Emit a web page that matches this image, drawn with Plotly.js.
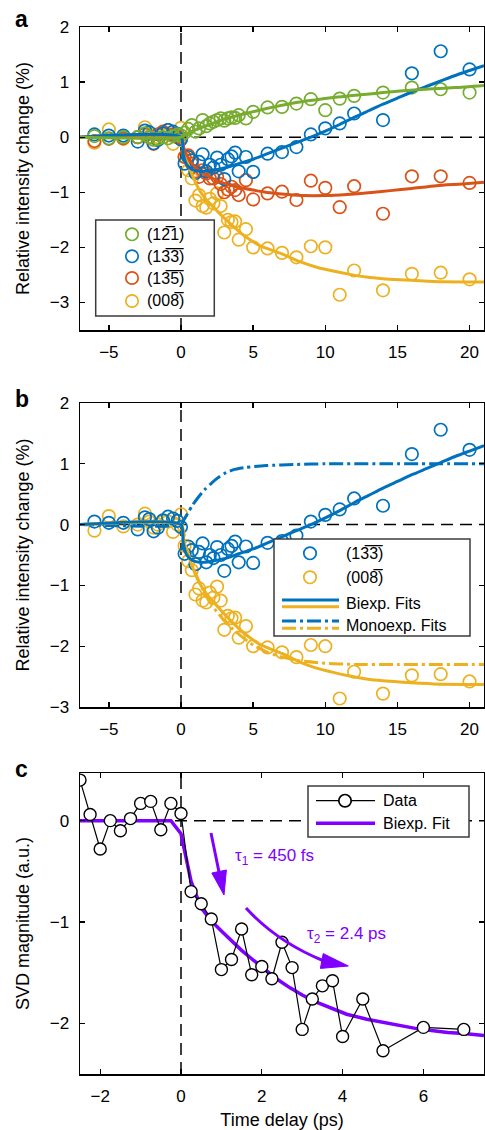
<!DOCTYPE html>
<html>
<head>
<meta charset="utf-8">
<script src="https://cdn.plot.ly/plotly-3.0.1.min.js"></script>
<style>html,body{margin:0;padding:0;background:#fff;}#chart{width:485px;height:1130px;}</style>
</head>
<body>
<div id="chart"></div>
<script>
// ---------------- DATA ----------------
const delays = [-6,-5,-4,-3,-2.5,-2.2,-1.9,-1.6,-1.25,-0.9,-0.55,-0.25,0,
  0.25,0.5,0.75,1,1.25,1.5,1.75,2,2.25,2.5,2.75,3,3.25,3.5,3.75,4,
  4.5,5,6,7,8,9,10,11,12,14,16,18,20];

const green121 = [0.02,-0.02,0.0,0.0,0.07,0.0,-0.04,-0.03,0.0,-0.02,0.02,0.05,0.03,
  0.08,0.15,0.22,0.10,0.16,0.31,0.20,0.25,0.28,0.31,0.34,0.30,0.34,0.36,0.35,0.40,
  0.34,0.46,0.54,0.55,0.61,0.69,0.49,0.70,0.75,0.81,0.90,0.87,0.81];

const blue133 = [0.05,0.03,0.03,-0.08,0.12,0.09,-0.11,-0.05,0.07,0.13,0.10,0.06,-0.04,
  -0.48,-0.36,-0.42,-0.65,-0.45,-0.31,-0.62,-0.50,-0.55,-0.37,-0.50,-0.76,-0.40,-0.35,-0.28,-0.62,
  -0.36,-0.63,-0.30,-0.27,-0.18,0.05,0.16,0.25,0.43,0.31,1.16,1.56,1.23];

const orange135 = [-0.07,-0.03,-0.02,0.0,0.05,0.0,-0.12,0.05,0.10,0.13,0.05,0.0,-0.02,
  -0.36,-0.33,-0.48,-0.62,-0.72,-0.60,-0.66,-0.75,-0.75,-0.72,-0.85,-1.00,-0.95,-0.90,-0.96,-1.05,
  -0.78,-1.13,-1.02,-0.99,-1.14,-0.79,-0.92,-1.27,-0.89,-1.39,-0.71,-0.71,-0.83];

const yellow008 = [-0.10,0.14,-0.03,0.0,0.18,0.05,-0.05,0.0,0.05,0.05,-0.12,0.0,0.17,
  -0.35,-0.60,-0.75,-1.15,-1.05,-1.25,-1.28,-1.12,-1.20,-1.02,-1.25,-1.73,-1.50,-1.54,-1.53,-1.86,
  -1.67,-2.00,-2.02,-2.10,-2.18,-1.98,-2.00,-2.86,-2.42,-2.78,-2.48,-2.46,-2.58];

// Biexponential fits
const greenFitT = [-7,0,0.3,0.7,1.3,2,2.7,3.6,4.5,5.93,7,8.24,9.4,10.55,11.7,12.86,14,15.2,17.5,19,21];
const greenFitV = [0,0,0.05,0.10,0.16,0.23,0.30,0.37,0.43,0.52,0.58,0.64,0.68,0.72,0.75,0.78,0.81,0.84,0.88,0.90,0.94];

const blueFitT = [-7,0,0.15,0.4,0.8,1.3,2,3,4,5,6,7,8,9,10,11,12,13,14,15,16,17,18,19,20,21];
const blueFitV = [0,0,-0.30,-0.50,-0.59,-0.62,-0.61,-0.56,-0.48,-0.40,-0.30,-0.20,-0.10,0.0,0.11,0.23,0.36,0.48,0.60,0.71,0.82,0.92,1.02,1.12,1.21,1.30];

const orangeFitT = [-7,0,0.2,0.6,1,1.55,2.1,2.7,3.3,3.86,5,6.16,7.4,8.5,10,11.5,13,14.5,16,17.7,19.5,21];
const orangeFitV = [0,0,-0.20,-0.42,-0.55,-0.66,-0.74,-0.81,-0.86,-0.90,-0.96,-1.01,-1.04,-1.06,-1.06,-1.04,-1.01,-0.97,-0.93,-0.88,-0.85,-0.82];

const yellowFitT = [-7,0,0.15,0.35,0.62,1.0,1.3,1.8,2.47,3,3.62,4.2,4.78,5.4,5.93,7,8.24,9.4,10.55,11.7,12.86,14,15.17,17.5,21];
const yellowFitV = [0,0,-0.20,-0.40,-0.58,-0.82,-0.97,-1.15,-1.33,-1.47,-1.62,-1.75,-1.86,-1.96,-2.02,-2.12,-2.26,-2.36,-2.43,-2.49,-2.54,-2.57,-2.59,-2.62,-2.63];

// Monoexponential fits (panel b)
const blueMonoT = [-7,0,0.2,0.5,0.8,1.2,1.66,2.1,2.5,3,3.6,4.5,5.9,8,10,14,21];
const blueMonoV = [0,0,0.08,0.20,0.32,0.45,0.58,0.68,0.76,0.84,0.90,0.94,0.97,0.99,1.0,1.0,1.0];
const yellowMonoT = [-7,0,0.3,0.6,1,1.5,2,2.5,3,3.6,4.3,5,6,7,8.2,10,12,15,21];
const yellowMonoV = [0,0,-0.30,-0.55,-0.80,-1.06,-1.27,-1.44,-1.58,-1.72,-1.86,-1.98,-2.10,-2.18,-2.24,-2.28,-2.30,-2.30,-2.30];

// Panel c: SVD magnitude
const svdT = [-2.5,-2.25,-2,-1.75,-1.5,-1.25,-1,-0.75,-0.5,-0.25,0,0.25,0.5,0.75,1,1.25,1.5,1.75,2,2.25,2.5,2.75,3,3.25,3.5,3.75,4,4.5,5,6,7];
const svdV = [0.40,0.06,-0.28,0.0,-0.10,0.02,0.17,0.19,-0.09,0.17,0.07,-0.70,-0.82,-0.97,-1.47,-1.37,-1.07,-1.52,-1.44,-1.56,-1.20,-1.45,-2.06,-1.76,-1.63,-1.58,-2.13,-1.76,-2.27,-2.04,-2.06];
const svdFitT = [-2.5,-0.25,0,0.25,0.5,0.75,1,1.25,1.5,1.8,2.1,2.4,2.7,3,3.35,3.7,4.1,4.6,5,5.4,5.8,6.2,6.6,7,7.5];
const svdFitV = [0,0,-0.13,-0.60,-0.86,-0.99,-1.09,-1.19,-1.28,-1.38,-1.48,-1.57,-1.65,-1.72,-1.79,-1.85,-1.91,-1.96,-1.99,-2.02,-2.05,-2.07,-2.09,-2.10,-2.12];

// Labels (bar over a digit = negative Miller index)
const labels = ['(12\u03051)', '(13\u03053\u0305)', '(13\u03055\u0305)', '(008\u0305)'];
const tickA = [-5,0,5,10,15,20];
const tickC = [-2,0,2,4,6];

// ---------------- STYLE ----------------
const C = {green:'#77AC30', blue:'#0072BD', orange:'#D95319', yellow:'#EDB120', purple:'#7F00FF'};
const W = 485, H = 1130;
const px = v => v / W;
const py = v => 1 - v / H;
const FONT = 'Liberation Sans, Arial, Helvetica, sans-serif';

function pts(x, y, color, xa, ya) {
  return {x:x, y:y, type:'scatter', mode:'markers', xaxis:xa, yaxis:ya, showlegend:false,
    marker:{symbol:'circle-open', size:12.5, color:color, line:{width:1.7, color:color}}};
}
function fit(x, y, color, xa, ya, dash) {
  return {x:x, y:y, type:'scatter', mode:'lines', xaxis:xa, yaxis:ya, showlegend:false,
    line:{color:color, width:3, shape:'spline', smoothing:0.6, dash:dash || 'solid'}};
}

const traces = [
  // panel a
  pts(delays, yellow008, C.yellow, 'x', 'y'),
  pts(delays, orange135, C.orange, 'x', 'y'),
  pts(delays, blue133, C.blue, 'x', 'y'),
  pts(delays, green121, C.green, 'x', 'y'),
  fit(yellowFitT, yellowFitV, C.yellow, 'x', 'y'),
  fit(orangeFitT, orangeFitV, C.orange, 'x', 'y'),
  fit(blueFitT, blueFitV, C.blue, 'x', 'y'),
  fit(greenFitT, greenFitV, C.green, 'x', 'y'),
  // panel b
  pts(delays, yellow008, C.yellow, 'x2', 'y2'),
  pts(delays, blue133, C.blue, 'x2', 'y2'),
  fit(yellowMonoT, yellowMonoV, C.yellow, 'x2', 'y2', '14px,4px,3px,4px'),
  fit(blueMonoT, blueMonoV, C.blue, 'x2', 'y2', '14px,4px,3px,4px'),
  fit(yellowFitT, yellowFitV, C.yellow, 'x2', 'y2'),
  fit(blueFitT, blueFitV, C.blue, 'x2', 'y2'),
  // panel c
  {x:svdFitT, y:svdFitV, type:'scatter', mode:'lines', xaxis:'x3', yaxis:'y3', showlegend:false,
    line:{color:C.purple, width:3.5}},
  {x:svdT, y:svdV, type:'scatter', mode:'lines+markers', xaxis:'x3', yaxis:'y3', showlegend:false,
    line:{color:'black', width:1.2},
    marker:{symbol:'circle', size:12, color:'white', line:{color:'black', width:1.4}}}
];

const axBase = {showgrid:false, zeroline:false, showline:true, linecolor:'black', linewidth:1.5,
  mirror:'ticks', ticks:'inside', ticklen:5, tickwidth:1.3, tickcolor:'black',
  tickfont:{size:17, color:'black'}, ticklabelstandoff:6};

const layout = {
  width:W, height:H, margin:{l:0, r:0, t:0, b:0}, paper_bgcolor:'white', plot_bgcolor:'white',
  font:{family:FONT, size:17, color:'black'}, showlegend:false,
  xaxis: Object.assign({}, axBase, {domain:[px(80), px(484)], range:[-7,21], tickvals:tickA, anchor:'y'}),
  yaxis: Object.assign({}, axBase, {domain:[py(330), py(27)], range:[-3.5,2], tickvals:[-3,-2,-1,0,1,2], anchor:'x',
    title:{text:'Relative intensity change (%)', font:{size:18}, standoff:15}}),
  xaxis2: Object.assign({}, axBase, {domain:[px(80), px(484)], range:[-7,21], tickvals:tickA, anchor:'y2'}),
  yaxis2: Object.assign({}, axBase, {domain:[py(707), py(403)], range:[-3,2], tickvals:[-3,-2,-1,0,1,2], anchor:'x2',
    title:{text:'Relative intensity change (%)', font:{size:18}, standoff:15}}),
  xaxis3: Object.assign({}, axBase, {domain:[px(80), px(484)], range:[-2.5,7.5], tickvals:tickC, anchor:'y3',
    title:{text:'Time delay (ps)', font:{size:18}, standoff:15}}),
  yaxis3: Object.assign({}, axBase, {domain:[py(1074), py(773)], range:[-2.5,0.47], tickvals:[-2,-1,0], anchor:'x3',
    title:{text:'SVD magnitude (a.u.)', font:{size:18}, standoff:15}}),
  shapes: [],
  annotations: []
};

const S = layout.shapes, A = layout.annotations;
const zeroDash = '12px,7px';
// zero lines
S.push({type:'line', xref:'x', yref:'y', x0:0, x1:0, y0:-3.5, y1:2, layer:'below', line:{color:'black', width:1.5, dash:zeroDash}});
S.push({type:'line', xref:'x', yref:'y', x0:-7, x1:21, y0:0, y1:0, layer:'below', line:{color:'black', width:1.5, dash:zeroDash}});
S.push({type:'line', xref:'x2', yref:'y2', x0:0, x1:0, y0:-3, y1:2, layer:'below', line:{color:'black', width:1.5, dash:zeroDash}});
S.push({type:'line', xref:'x2', yref:'y2', x0:-7, x1:21, y0:0, y1:0, layer:'below', line:{color:'black', width:1.5, dash:zeroDash}});
S.push({type:'line', xref:'x3', yref:'y3', x0:0, x1:0, y0:-2.5, y1:0.47, layer:'below', line:{color:'black', width:1.5, dash:zeroDash}});
S.push({type:'line', xref:'x3', yref:'y3', x0:-2.5, x1:7.5, y0:0, y1:0, layer:'below', line:{color:'black', width:1.5, dash:zeroDash}});

function box(x0, y0, x1, y1) {
  S.push({type:'rect', xref:'paper', yref:'paper', x0:px(x0), x1:px(x1), y0:py(y1), y1:py(y0),
    fillcolor:'white', line:{color:'#3c3c3c', width:1.5}, layer:'above'});
}
function circ(x, y, color, fill) {
  S.push({type:'circle', xref:'paper', yref:'paper', xsizemode:'pixel', ysizemode:'pixel',
    xanchor:px(x), yanchor:py(y), x0:-6.2, x1:6.2, y0:-6.2, y1:6.2,
    fillcolor: fill || 'rgba(0,0,0,0)', line:{color:color, width:1.7}, layer:'above'});
}
function seg(x0, x1, y, color, width, dash) {
  S.push({type:'line', xref:'paper', yref:'paper', x0:px(x0), x1:px(x1), y0:py(y), y1:py(y),
    line:{color:color, width:width, dash:dash || 'solid'}, layer:'above'});
}
function txt(x, y, text, size, color, anchor) {
  A.push({xref:'paper', yref:'paper', x:px(x), y:py(y), text:text, showarrow:false,
    xanchor:anchor || 'left', yanchor:'middle', font:{size:size, color:color || 'black', family:FONT}});
}

// legend a
box(95.7, 220, 214.3, 316);
const rowsA = [234.3, 256.3, 278, 301];
const colsA = [C.green, C.blue, C.orange, C.yellow];
rowsA.forEach((r, i) => { circ(132, r, colsA[i]); txt(145, r, labels[i], 16); });

// legend b
box(274, 539, 470, 636);
circ(310, 553.3, C.blue); txt(344, 553.3, labels[1], 16);
circ(310, 577.3, C.yellow); txt(344, 577.3, labels[3], 16);
seg(282, 339, 600, C.blue, 3); seg(282, 339, 606.7, C.yellow, 3);
txt(344, 603.3, 'Biexp. Fits', 16);
seg(282, 339, 621, C.blue, 3, '14px,4px,3px,4px'); seg(282, 339, 628.3, C.yellow, 3, '14px,4px,3px,4px');
txt(344, 625, 'Monoexp. Fits', 16);

// legend c
box(308, 786, 469, 837);
seg(316, 375, 800.7, 'black', 1.3); circ(345, 800.7, 'black', 'white');
txt(381, 800.7, 'Data', 16);
seg(316, 375, 823.3, C.purple, 3.5);
txt(381, 823.3, 'Biexp. Fit', 16);

// arrows in c
S.push({type:'line', xref:'paper', yref:'paper', x0:px(211), y0:py(833), x1:px(219), y1:py(872),
  line:{color:C.purple, width:3}});
S.push({type:'path', xref:'paper', yref:'paper', xsizemode:'pixel', ysizemode:'pixel',
  xanchor:px(224), yanchor:py(895), path:'M0,0 L-12.2,22 L2.4,25 Z', fillcolor:C.purple, line:{color:C.purple, width:1}});
S.push({type:'path', xref:'paper', yref:'paper',
  path:'M' + px(246) + ',' + py(908) + ' Q' + px(277) + ',' + py(942) + ' ' + px(324) + ',' + py(961),
  line:{color:C.purple, width:3}});
S.push({type:'path', xref:'paper', yref:'paper', xsizemode:'pixel', ysizemode:'pixel',
  xanchor:px(348.3), yanchor:py(966), path:'M0,0 L-27.9,-2.4 L-25.1,12.4 Z', fillcolor:C.purple, line:{color:C.purple, width:1}});
txt(233, 857, '\u03c4<sub>1</sub> = 450 fs', 17, C.purple);
txt(305, 935, '\u03c4<sub>2</sub> = 2.4 ps', 17, C.purple);

// panel letters
txt(13, 19, '<b>a</b>', 23);
txt(13, 399, '<b>b</b>', 23);
txt(13, 769, '<b>c</b>', 23);

Plotly.newPlot('chart', traces, layout, {displayModeBar:false, staticPlot:true});
</script>
</body>
</html>
